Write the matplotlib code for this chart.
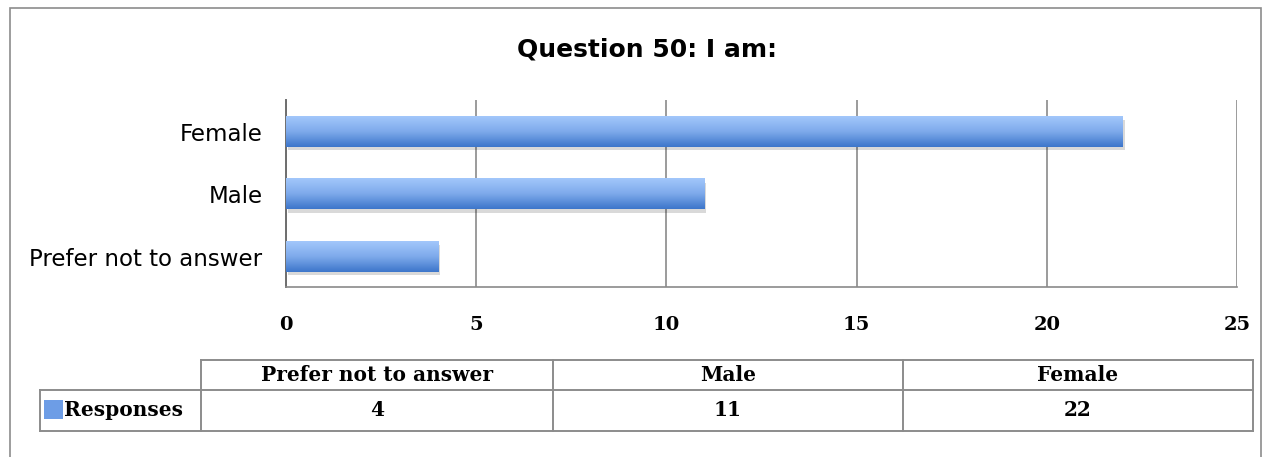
import numpy as np
import matplotlib
matplotlib.use("Agg")
import matplotlib.pyplot as plt
from matplotlib.patches import Rectangle
from matplotlib.lines import Line2D
from matplotlib.colors import LinearSegmentedColormap

title = "Question 50: I am:"
categories = ["Prefer not to answer", "Male", "Female"]
responses = [4, 11, 22]
series_name = "Responses"
xticks = [0, 5, 10, 15, 20, 25]

W, H = 1264, 457
fig = plt.figure(figsize=(W / 100, H / 100), dpi=100)

def fx(px):
    return px / W

def fy(py):
    return 1 - py / H

# outer chart frame
fig.add_artist(Rectangle((fx(10), fy(470)), fx(1261 - 10), (470 - 8) / H,
                         transform=fig.transFigure, fill=False, ec="#8c8c8c", lw=1.2))

ax = fig.add_axes([fx(286), fy(287), fx(1237 - 286), (287 - 100) / H])
ypos = np.arange(len(categories))

# light on top, darker at the bottom
grad = LinearSegmentedColormap.from_list("bar", ["#a2c7fb", "#7eaaeb", "#3d76cb"])
g = np.linspace(1, 0, 64).reshape(-1, 1)
bars = ax.barh(ypos, responses, height=0.48, color="none", zorder=3)
for b in bars:
    x0, y0, w, h = b.get_x(), b.get_y(), b.get_width(), b.get_height()
    # soft shadow under the bar
    ax.add_patch(Rectangle((x0 + 0.05, y0 - 0.05), w, h, color="#000000", alpha=0.15, lw=0, zorder=2))
    ax.imshow(g, cmap=grad, aspect="auto", extent=(x0, x0 + w, y0, y0 + h), origin="lower",
              zorder=3, interpolation="bilinear")
ax.set_xlim(0, 25)
ax.set_ylim(-0.48, 2.51)

ax.set_xticks(xticks)
ax.set_xticklabels([str(t) for t in xticks], fontfamily="DejaVu Serif",
                   fontweight="bold", fontsize=14)
ax.tick_params(axis="x", length=0, pad=21)
ax.set_yticks(ypos)
ax.set_yticklabels(categories, fontfamily="DejaVu Sans", fontsize=16.5)
ax.tick_params(axis="y", length=0, pad=17)
ax.grid(axis="x", color="#8a8a8a", lw=1.2, zorder=0)
for s in ["top", "right"]:
    ax.spines[s].set_visible(False)
ax.spines["left"].set_color("#6e6e6e")
ax.spines["left"].set_linewidth(1.4)
ax.spines["bottom"].set_color("#8a8a8a")
ax.spines["bottom"].set_linewidth(1.2)

fig.text(fx(647), fy(50), title, ha="center", va="center",
         fontfamily="DejaVu Sans", fontweight="bold", fontsize=18)

# data table under the chart
col_edges = [201, 553, 903, 1253]
row_top, row_mid, row_bot = 360, 390, 431
lc = "#8c8c8c"
def hline(x0, x1, y):
    fig.add_artist(Line2D([fx(x0), fx(x1)], [fy(y), fy(y)], color=lc, lw=1.4))
def vline(x, y0, y1):
    fig.add_artist(Line2D([fx(x), fx(x)], [fy(y0), fy(y1)], color=lc, lw=1.4))
hline(201, 1253, row_top)
hline(40, 1253, row_mid)
hline(40, 1253, row_bot)
vline(40, row_mid, row_bot)
for x in col_edges:
    vline(x, row_top, row_bot)
tfont = dict(fontfamily="DejaVu Serif", fontweight="bold", fontsize=14.5)
for i, (cat, val) in enumerate(zip(categories, responses)):
    xc = (col_edges[i] + col_edges[i + 1]) / 2
    fig.text(fx(xc), fy((row_top + row_mid) / 2), cat, ha="center", va="center", **tfont)
    fig.text(fx(xc), fy((row_mid + row_bot) / 2), str(val), ha="center", va="center", **tfont)
fig.add_artist(Rectangle((fx(44), fy(419)), fx(19), 19 / H, transform=fig.transFigure,
                         color="#6d9de6", lw=0))
fig.text(fx(64), fy((row_mid + row_bot) / 2), series_name, ha="left", va="center", **tfont)

fig.savefig("out.png", dpi=100, facecolor="white")
